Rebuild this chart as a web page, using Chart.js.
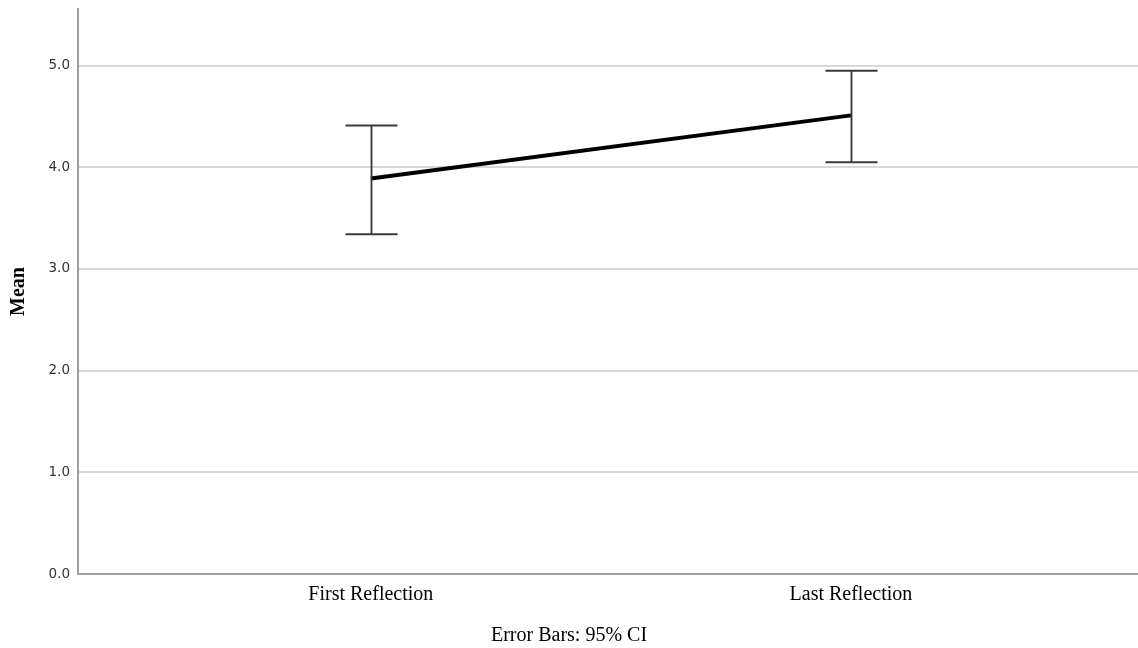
<!DOCTYPE html>
<html>
<head>
<meta charset="utf-8">
<script src="https://cdn.jsdelivr.net/npm/chart.js@4"></script>
<style>
  html, body { margin: 0; padding: 0; background: #fff; }
  canvas { display: block; }
</style>
</head>
<body>
<canvas id="c" width="1138" height="648"></canvas>
<script>
const categories = ['First Reflection', 'Last Reflection'];
const meanValues = [3.89, 4.51];
const ciLower = [3.34, 4.05];
const ciUpper = [4.41, 4.95];
const yTickValues = [0, 1, 2, 3, 4, 5];
const footnote = 'Error Bars: 95% CI';
const yTitle = 'Mean';

const points = categories.map((c, i) => ({ x: i + 1, y: meanValues[i] }));

const errorBarPlugin = {
  id: 'errorBars',
  afterDatasetsDraw(chart) {
    const ctx = chart.ctx;
    const xs = chart.scales.x, ys = chart.scales.y;
    ctx.save();
    categories.forEach((c, i) => {
      const px = Math.round(xs.getPixelForValue(i + 1)) + 0.5;
      const yTop = ys.getPixelForValue(ciUpper[i]);
      const yBot = ys.getPixelForValue(ciLower[i]);
      ctx.strokeStyle = '#333';
      ctx.lineWidth = 1.8;
      ctx.beginPath();
      ctx.moveTo(px, yTop);
      ctx.lineTo(px, yBot);
      ctx.stroke();
      ctx.strokeStyle = '#3a3a3a';
      ctx.lineWidth = 2;
      ctx.beginPath();
      ctx.moveTo(px - 26, yTop);
      ctx.lineTo(px + 26, yTop);
      ctx.moveTo(px - 26, yBot);
      ctx.lineTo(px + 26, yBot);
      ctx.stroke();
    });
    ctx.restore();
  }
};

new Chart(document.getElementById('c'), {
  type: 'line',
  data: {
    datasets: [{
      data: points,
      borderColor: '#000',
      borderWidth: 4,
      pointRadius: 0,
      tension: 0,
      fill: false
    }]
  },
  options: {
    responsive: false,
    animation: false,
    layout: { padding: { top: 9, right: 0, left: 0, bottom: 0 } },
    plugins: {
      legend: { display: false },
      tooltip: { enabled: false },
      title: {
        display: true,
        text: footnote,
        position: 'bottom',
        color: '#000',
        font: { family: '"Liberation Serif", "Times New Roman", serif', size: 20, weight: 'normal' },
        padding: { top: 0, bottom: 0 }
      }
    },
    scales: {
      x: {
        type: 'linear',
        min: 0.39,
        max: 2.598,
        afterBuildTicks(scale) {
          scale.ticks = categories.map((c, i) => ({ value: i + 1 }));
        },
        afterFit(scale) { scale.height = 50; scale.paddingLeft = 0; scale.paddingRight = 0; },
        ticks: {
          autoSkip: false,
          maxRotation: 0,
          padding: 9,
          color: '#000',
          font: { family: '"Liberation Serif", "Times New Roman", serif', size: 20 },
          callback: (v) => categories[Math.round(v) - 1] || ''
        },
        grid: { display: false, drawTicks: false },
        border: { display: true, color: '#a0a0a0', width: 2 }
      },
      y: {
        min: 0,
        max: 5.556,
        afterBuildTicks(scale) {
          scale.ticks = yTickValues.map(v => ({ value: v }));
        },
        afterFit(scale) { scale.width = 78; scale.paddingTop = 0; scale.paddingBottom = 0; },
        ticks: {
          padding: 8,
          color: '#333',
          font: { family: '"DejaVu Sans", sans-serif', size: 13.5 },
          callback: (v) => Number(v).toFixed(1)
        },
        grid: { color: '#d8d8d8', lineWidth: 2, drawTicks: false },
        border: { display: true, color: '#a0a0a0', width: 2 },
        title: {
          display: true,
          text: yTitle,
          color: '#000',
          font: { family: '"Liberation Serif", "Times New Roman", serif', size: 20, weight: 'bold' },
          padding: { top: 7, bottom: 0 }
        }
      }
    }
  },
  plugins: [errorBarPlugin]
});
</script>
</body>
</html>
